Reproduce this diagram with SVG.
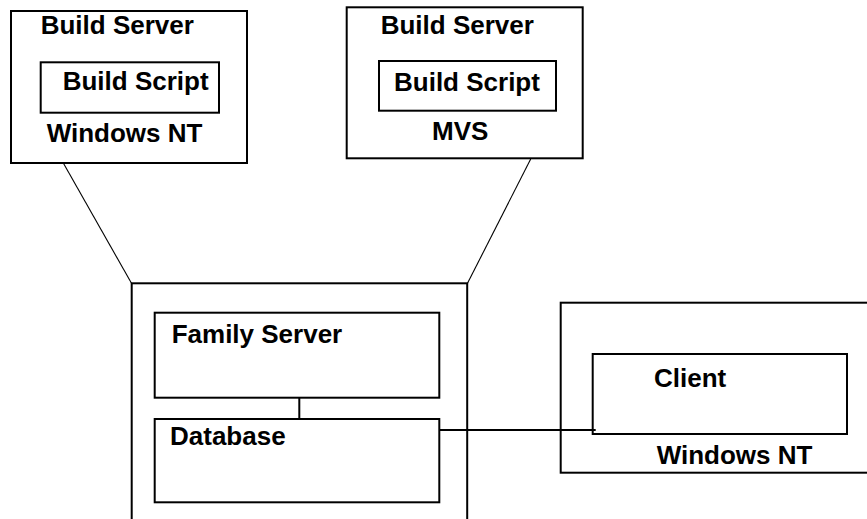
<svg xmlns="http://www.w3.org/2000/svg" width="867" height="519" viewBox="0 0 867 519">
<style>
.box{fill:none;stroke:#000;stroke-width:2}
.inner{fill:#fff;stroke:#000;stroke-width:2}
.lbl{font-family:"Liberation Sans",Arial,sans-serif;font-weight:bold;font-size:26px;fill:#000}
.thin{fill:none;stroke:#000;stroke-width:1.1}
.conn{fill:none;stroke:#000;stroke-width:2}
</style>
<rect width="867" height="519" fill="#fff"/>
<g id="connectors">
<line class="thin" x1="63.3" y1="163" x2="131.5" y2="283.3"/>
<line class="thin" x1="530.7" y1="159" x2="467.5" y2="283.3"/>
<line class="conn" x1="299.3" y1="398" x2="299.3" y2="419"/>
<line class="conn" x1="439.3" y1="430" x2="595.7" y2="430"/>
</g>
<g id="build-server-nt">
<rect class="box" x="11" y="11" width="236" height="152"/>
<text class="lbl" x="40.7" y="34.3">Build Server</text>
<g id="build-script-nt">
<rect class="inner" x="40.7" y="62.3" width="178.3" height="50.4"/>
<text class="lbl" x="62.7" y="90">Build Script</text>
</g>
<text class="lbl" x="46.7" y="141.5">Windows NT</text>
</g>
<g id="build-server-mvs">
<rect class="box" x="346.7" y="7.3" width="236" height="151"/>
<text class="lbl" x="380.7" y="34.3">Build Server</text>
<g id="build-script-mvs">
<rect class="inner" x="379" y="61" width="177" height="49.7"/>
<text class="lbl" x="394" y="90.7">Build Script</text>
</g>
<text class="lbl" x="432" y="140">MVS</text>
</g>
<g id="family-host">
<rect class="box" x="131.7" y="283.3" width="335.5" height="260"/>
<g id="family-server">
<rect class="inner" x="154.7" y="312.7" width="284.6" height="85"/>
<text class="lbl" x="171.7" y="343.3">Family Server</text>
</g>
<g id="database">
<rect class="inner" x="154.7" y="419" width="284.6" height="83.3"/>
<text class="lbl" x="170" y="445">Database</text>
</g>
</g>
<g id="client-host">
<rect class="box" x="560.7" y="302.7" width="330" height="170"/>
<g id="client">
<rect class="box" x="592.7" y="354" width="254.3" height="80"/>
<text class="lbl" x="654" y="386.7">Client</text>
</g>
<text class="lbl" x="656.7" y="464">Windows NT</text>
</g>
</svg>
